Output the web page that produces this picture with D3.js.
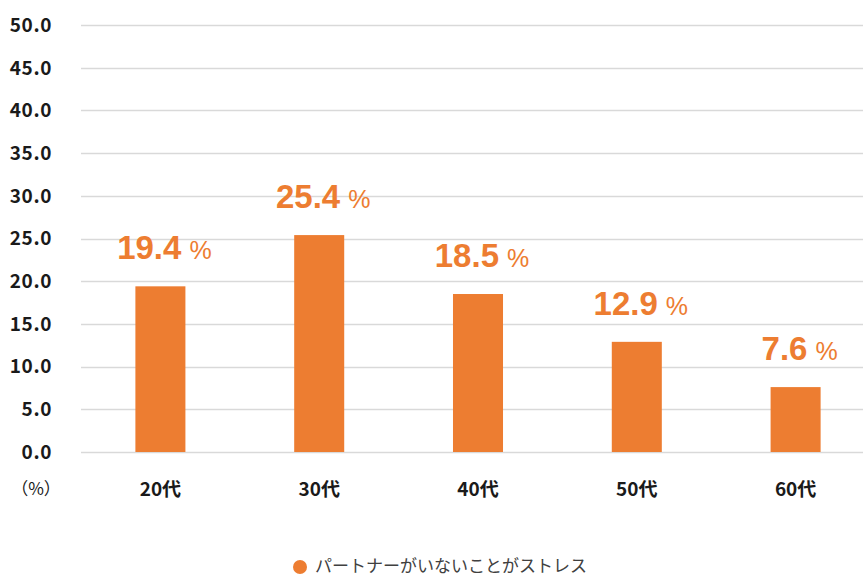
<!DOCTYPE html>
<html>
<head>
<meta charset="utf-8">
<script src="https://cdn.jsdelivr.net/npm/d3@7"></script>
<style>
  body { margin: 0; background: #fff; }
  svg { display: block; font-family: "Noto Sans CJK JP", "Noto Sans", sans-serif; }
</style>
</head>
<body>
<div id="chart"></div>
<script>
// Data
const categories = ["20代", "30代", "40代", "50代", "60代"];
const values = [19.4, 25.4, 18.5, 12.9, 7.6];
const yTicks = [0, 5, 10, 15, 20, 25, 30, 35, 40, 45, 50];
const seriesName = "パートナーがいないことがストレス";

const width = 863, height = 577;
const plot = {left: 81, right: 875, top: 25, bottom: 452};
const barColor = "#ED7D31";

const svg = d3.select("#chart").append("svg")
	.attr("width", width)
	.attr("height", height);

// Scales
const x = d3.scaleBand()
	.domain(categories)
	.range([plot.left, plot.right])
	.paddingInner(0.685)
	.paddingOuter(0.3425);

const y = d3.scaleLinear()
	.domain([0, 50])
	.range([plot.bottom, plot.top]);

// Gridlines
svg.append("g")
	.selectAll("line")
	.data(yTicks)
	.enter()
	.append("line")
	.attr("x1", plot.left)
	.attr("x2", width)
	.attr("y1", d => Math.round(y(d)) + 0.5)
	.attr("y2", d => Math.round(y(d)) + 0.5)
	.attr("stroke", "#d9d9d9")
	.attr("stroke-width", 1.3);

// Y axis labels
svg.append("g")
	.selectAll("text")
	.data(yTicks)
	.enter()
	.append("text")
	.attr("x", 52)
	.attr("y", d => y(d))
	.attr("dy", "0.36em")
	.attr("text-anchor", "end")
	.attr("font-size", 19)
	.attr("font-weight", "bold")
	.attr("letter-spacing", 0.6)
	.attr("fill", "#1a1a1a")
	.text(d => d.toFixed(1));

// Bars
svg.append("g")
	.selectAll("rect")
	.data(values)
	.enter()
	.append("rect")
	.attr("x", (d, i) => x(categories[i]))
	.attr("y", d => y(d))
	.attr("width", x.bandwidth())
	.attr("height", d => y(0) - y(d))
	.attr("fill", barColor);

// Value labels
const labels = svg.append("g")
	.selectAll("text")
	.data(values)
	.enter()
	.append("text")
	.attr("x", (d, i) => x(categories[i]) + x.bandwidth() / 2 + 4)
	.attr("y", d => y(d) - 27)
	.attr("text-anchor", "middle")
	.attr("fill", barColor)
	.style("font-family", "'Liberation Sans', Arial, sans-serif");
labels.append("tspan")
	.attr("font-size", 33)
	.attr("font-weight", "bold")
	.text(d => d.toFixed(1));
labels.append("tspan")
	.attr("font-size", 25)
	.attr("dx", 8)
	.text("%");

// X axis labels
svg.append("g")
	.selectAll("text")
	.data(categories)
	.enter()
	.append("text")
	.attr("x", d => x(d) + x.bandwidth() / 2)
	.attr("y", 496)
	.attr("text-anchor", "middle")
	.attr("font-size", 19)
	.attr("font-weight", "bold")
	.attr("fill", "#1a1a1a")
	.text(d => d);

// Unit label
svg.append("text")
	.attr("x", 36)
	.attr("y", 495)
	.attr("text-anchor", "middle")
	.attr("font-size", 17)
	.attr("fill", "#1a1a1a")
	.text("（%）");

// Legend
svg.append("circle")
	.attr("cx", 300)
	.attr("cy", 567)
	.attr("r", 7)
	.attr("fill", barColor);
svg.append("text")
	.attr("x", 315)
	.attr("y", 572)
	.attr("font-size", 17)
	.attr("fill", "#404040")
	.text(seriesName);
</script>
</body>
</html>
